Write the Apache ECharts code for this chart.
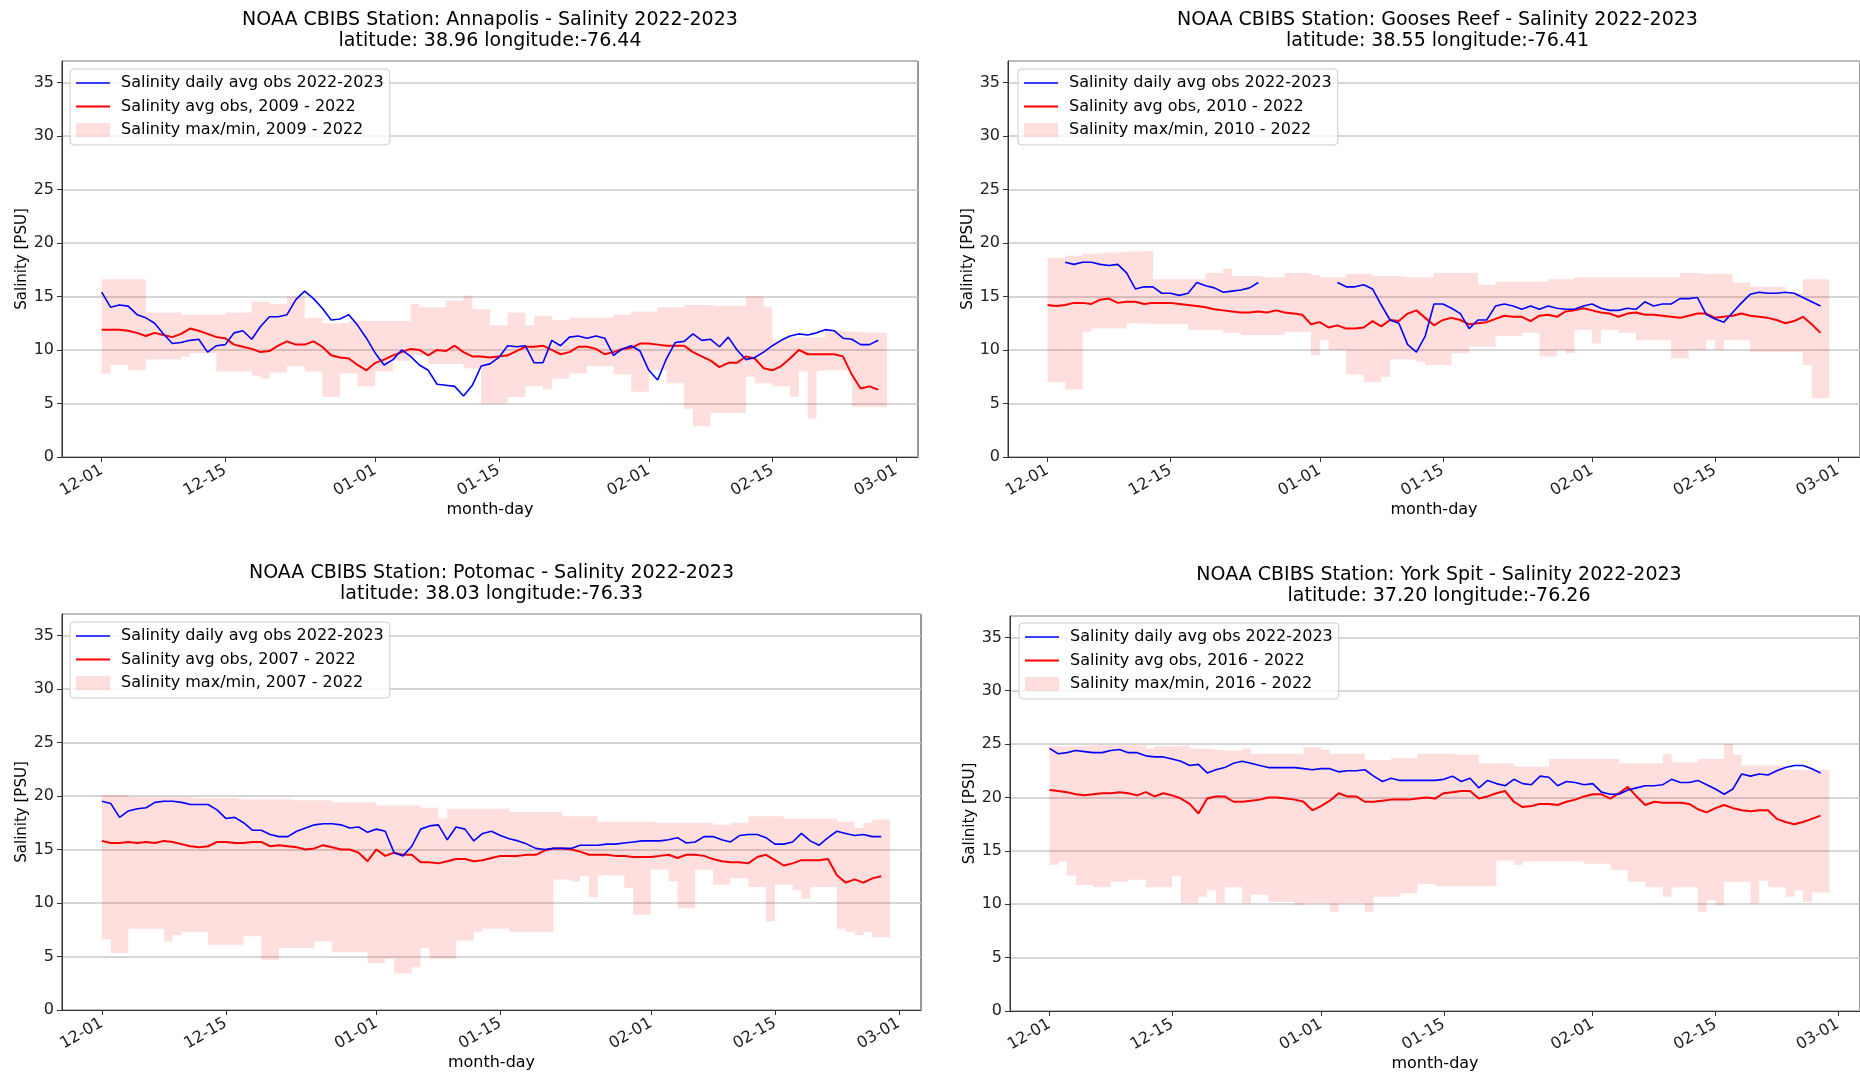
<!DOCTYPE html>
<html><head><meta charset="utf-8">
<script src="https://cdn.jsdelivr.net/npm/echarts@6/dist/echarts.min.js"></script>
<style>html,body{margin:0;padding:0;background:#fff}#chart{width:1860px;height:1073px}</style>
</head><body><div id="chart"></div>
<script>
// ---------- data ----------
const tickLabels = ['12-01','12-15','01-01','01-15','02-01','02-15','03-01'];
const stations = ['Annapolis','Gooses Reef','Potomac','York Spit'];
const latitudes = ['38.96','38.55','38.03','37.20'];
const longitudes = ['-76.44','-76.41','-76.33','-76.26'];
const climYears = ['2009 - 2022','2010 - 2022','2007 - 2022','2016 - 2022'];

// daily values, 12-01 .. 02-27 (89 days)
const annapolisObs = [
 15.4,14.0,14.2,14.1,13.3,13.0,12.5,11.5,10.6,10.7,
 10.9,11.0,9.8,10.4,10.5,11.6,11.8,11.0,12.2,13.1,
 13.1,13.3,14.7,15.5,14.8,13.9,12.8,12.9,13.3,12.3,
 11.1,9.7,8.6,9.1,10.0,9.4,8.6,8.1,6.8,6.7,
 6.6,5.7,6.7,8.5,8.7,9.3,10.4,10.3,10.4,8.8,
 8.8,10.9,10.4,11.2,11.3,11.1,11.3,11.1,9.5,10.1,
 10.4,9.9,8.1,7.2,9.2,10.7,10.8,11.5,10.9,11.0,
 10.3,11.2,10.0,9.1,9.3,9.8,10.4,10.9,11.3,11.5,
 11.4,11.6,11.9,11.8,11.1,11.0,10.5,10.5,10.9];
const annapolisAvg = [
 11.9,11.9,11.9,11.8,11.6,11.3,11.6,11.4,11.2,11.5,
 12.0,11.8,11.5,11.2,11.1,10.5,10.3,10.1,9.8,9.9,
 10.4,10.8,10.5,10.5,10.8,10.3,9.5,9.3,9.2,8.6,
 8.1,8.8,9.1,9.5,9.8,10.1,10.0,9.5,10.0,9.9,
 10.4,9.8,9.4,9.4,9.3,9.4,9.5,9.9,10.3,10.3,
 10.4,10.0,9.6,9.8,10.3,10.3,10.1,9.6,9.8,10.1,
 10.2,10.6,10.6,10.5,10.4,10.4,10.4,9.8,9.4,9.0,
 8.4,8.8,8.8,9.4,9.2,8.3,8.1,8.5,9.2,10.0,
 9.6,9.6,9.6,9.6,9.4,7.7,6.4,6.6,6.3];
const annapolisMax = [
 16.6,16.6,16.6,16.6,16.6,13.5,13.5,13.5,13.5,13.3,
 13.3,13.3,13.3,13.3,13.5,13.5,13.5,14.5,14.5,14.3,
 14.3,15.0,15.0,13.0,13.0,12.5,12.5,12.5,12.7,12.7,
 12.7,12.7,12.7,12.7,12.7,14.3,14.0,14.0,14.0,14.6,
 14.6,15.1,13.8,13.8,12.3,12.3,13.5,13.5,12.3,13.2,
 13.2,12.8,12.8,13.0,13.0,13.0,13.0,13.0,13.3,13.3,
 13.6,13.6,13.6,14.0,14.0,14.0,14.2,14.2,14.2,14.1,
 14.1,14.1,14.1,15.0,15.0,14.0,10.9,10.9,11.2,11.2,
 11.2,11.2,11.8,11.8,11.7,11.7,11.6,11.6,11.6];
const annapolisMin = [
 7.8,8.6,8.6,8.1,8.1,9.1,9.1,9.1,9.1,9.4,
 9.7,9.7,9.7,8.0,8.0,8.0,8.0,7.6,7.3,7.9,
 7.9,8.5,8.5,8.0,8.0,5.6,5.6,7.8,7.8,6.6,
 6.6,8.0,8.0,9.0,9.0,9.5,9.5,8.7,8.7,8.7,
 8.7,8.3,8.3,5.0,5.0,5.0,5.6,5.6,6.6,6.6,
 6.3,7.3,7.3,7.8,7.8,8.5,8.5,8.5,7.7,7.7,
 6.1,6.1,8.1,8.1,6.9,6.9,4.5,2.9,2.9,4.1,
 4.1,4.1,4.1,7.5,6.9,6.9,6.6,6.6,5.6,8.0,
 3.6,8.0,8.1,8.1,8.1,4.7,4.7,4.7,4.7];

const goosesObs = [
 null,null,18.2,18.0,18.2,18.2,18.0,17.9,18.0,17.2,
 15.7,15.9,15.9,15.3,15.3,15.1,15.3,16.3,16.0,15.8,
 15.4,15.5,15.6,15.8,16.3,null,null,null,null,null,
 null,null,null,16.3,15.9,15.9,16.1,15.7,14.2,12.8,
 12.5,10.5,9.8,11.3,14.3,14.3,13.9,13.4,12.0,12.8,
 12.8,14.1,14.3,14.1,13.8,14.1,13.8,14.1,13.9,13.8,
 13.8,14.1,14.3,13.9,13.7,13.7,13.9,13.8,14.5,14.1,
 14.3,14.3,14.8,14.8,14.9,13.3,12.9,12.6,13.5,14.4,
 15.2,15.4,15.3,15.3,15.4,15.3,14.9,14.5,14.1];
const goosesAvg = [
 14.2,14.1,14.2,14.4,14.4,14.3,14.7,14.8,14.4,14.5,
 14.5,14.3,14.4,14.4,14.4,14.3,14.2,14.1,14.0,13.8,
 13.7,13.6,13.5,13.5,13.6,13.5,13.7,13.5,13.4,13.3,
 12.4,12.6,12.1,12.3,12.0,12.0,12.1,12.7,12.2,12.8,
 12.7,13.4,13.7,13.0,12.3,12.8,13.0,12.8,12.4,12.5,
 12.6,12.9,13.2,13.1,13.1,12.7,13.2,13.3,13.1,13.6,
 13.7,13.9,13.7,13.5,13.4,13.1,13.4,13.5,13.3,13.3,
 13.2,13.1,13.0,13.2,13.4,13.4,13.0,13.1,13.2,13.4,
 13.2,13.1,13.0,12.8,12.5,12.7,13.1,12.4,11.6];
const goosesMax = [
 18.6,18.6,18.8,18.8,19.0,19.0,19.1,19.1,19.2,19.2,
 19.2,19.3,16.6,16.6,16.6,16.6,16.6,16.6,17.2,17.2,
 17.6,16.9,16.9,16.9,16.8,16.8,16.8,17.2,17.2,17.2,
 17.0,16.8,16.8,16.8,17.1,17.1,17.1,16.9,16.9,16.9,
 16.8,16.8,16.8,16.8,17.2,17.2,17.2,17.2,17.2,16.1,
 16.1,16.4,16.4,16.4,16.4,16.4,16.4,16.6,16.6,16.6,
 16.8,16.8,16.8,16.8,16.8,16.8,16.8,16.8,16.8,16.8,
 16.8,16.8,17.2,17.2,17.1,17.1,17.1,17.1,16.3,16.3,
 15.9,15.9,15.9,15.9,15.3,15.3,16.6,16.6,16.6];
const goosesMin = [
 7.0,7.0,6.3,6.3,11.7,12.0,12.0,12.0,12.0,12.5,
 12.5,12.5,12.4,12.4,12.4,12.4,11.9,11.9,11.9,11.9,
 11.6,11.6,11.4,11.4,11.4,11.4,11.4,11.7,11.7,11.7,
 9.5,10.9,10.0,10.0,7.7,7.7,7.0,7.0,7.5,9.1,
 9.1,9.1,8.9,8.6,8.6,8.6,9.7,9.7,10.3,10.3,
 10.3,11.3,11.3,11.3,11.6,11.6,9.4,9.4,10.0,9.7,
 11.9,11.9,10.6,11.9,11.9,11.6,11.6,10.9,10.9,10.9,
 10.9,9.2,9.2,10.0,10.0,10.9,10.0,10.9,10.9,10.9,
 9.8,9.8,9.8,9.8,9.8,9.8,8.6,5.5,5.5];

const potomacObs = [
 19.5,19.3,18.0,18.6,18.8,18.9,19.4,19.5,19.5,19.4,
 19.2,19.2,19.2,18.7,17.9,18.0,17.5,16.8,16.8,16.4,
 16.2,16.2,16.7,17.0,17.3,17.4,17.4,17.3,17.0,17.1,
 16.6,16.9,16.7,14.7,14.4,15.3,16.9,17.2,17.3,15.9,
 17.1,16.9,15.8,16.5,16.7,16.3,16.0,15.8,15.5,15.1,
 15.0,15.1,15.1,15.1,15.4,15.4,15.4,15.5,15.5,15.6,
 15.7,15.8,15.8,15.8,15.9,16.1,15.6,15.7,16.2,16.2,
 15.9,15.7,16.3,16.4,16.4,16.1,15.5,15.5,15.7,16.5,
 15.8,15.4,16.1,16.7,16.5,16.3,16.4,16.2,16.2];
const potomacAvg = [
 15.8,15.6,15.6,15.7,15.6,15.7,15.6,15.8,15.7,15.5,
 15.3,15.2,15.3,15.7,15.7,15.6,15.6,15.7,15.7,15.3,
 15.4,15.3,15.2,15.0,15.1,15.4,15.2,15.0,15.0,14.7,
 13.9,15.0,14.4,14.7,14.5,14.5,13.8,13.8,13.7,13.9,
 14.1,14.1,13.9,14.0,14.2,14.4,14.4,14.4,14.5,14.5,
 14.9,15.1,15.1,15.0,14.8,14.5,14.5,14.5,14.4,14.4,
 14.3,14.3,14.3,14.4,14.5,14.2,14.5,14.5,14.4,14.1,
 13.9,13.8,13.8,13.7,14.3,14.5,14.0,13.5,13.7,14.0,
 14.0,14.0,14.1,12.6,11.9,12.2,11.9,12.3,12.5];
const potomacMax = [
 20.1,20.1,20.1,19.9,19.9,19.9,19.9,19.9,19.9,19.9,
 19.8,19.8,19.8,19.8,19.8,19.7,19.7,19.7,19.7,19.7,
 19.7,19.6,19.6,19.6,19.6,19.6,19.4,19.4,19.4,19.4,
 19.4,19.1,19.1,19.1,19.1,19.1,18.9,18.9,17.9,18.8,
 18.8,18.8,18.8,18.8,18.8,18.8,18.5,18.5,18.5,18.5,
 18.5,18.5,18.1,18.1,18.1,18.1,17.6,17.6,17.6,17.6,
 17.6,17.6,17.5,17.5,17.5,17.5,17.5,17.5,17.5,17.3,
 17.3,17.5,17.5,18.1,18.1,18.1,18.1,17.9,17.9,17.9,
 17.9,17.9,17.9,17.6,17.6,17.0,17.5,17.8,17.8];
const potomacMin = [
 6.6,5.3,5.3,7.6,7.6,7.6,7.6,6.4,7.0,7.3,
 7.3,7.3,6.1,6.1,6.1,6.1,6.9,6.9,4.7,4.7,
 5.8,5.8,5.8,5.8,6.4,6.4,5.4,5.4,5.4,5.4,
 4.4,4.4,4.8,3.4,3.4,4.0,5.8,4.8,4.8,4.8,
 6.5,6.5,7.3,7.6,7.6,7.6,7.3,7.3,7.3,7.3,
 7.3,12.2,12.2,12.0,12.5,10.5,12.6,12.6,12.6,11.4,
 8.9,8.9,13.1,13.1,12.0,9.5,9.5,13.1,13.1,11.7,
 11.7,12.3,12.3,11.5,11.5,8.3,11.7,11.7,11.2,10.4,
 11.5,11.5,11.5,7.6,7.3,7.0,7.3,6.8,6.8];

const yorkObs = [
 24.6,24.1,24.2,24.4,24.3,24.2,24.2,24.4,24.5,24.2,
 24.2,23.9,23.8,23.8,23.6,23.4,23.0,23.1,22.3,22.6,
 22.8,23.2,23.4,23.2,23.0,22.8,22.8,22.8,22.8,22.7,
 22.6,22.7,22.7,22.4,22.5,22.5,22.6,22.0,21.5,21.8,
 21.6,21.6,21.6,21.6,21.6,21.7,22.0,21.5,21.8,20.9,
 21.6,21.3,21.1,21.7,21.3,21.2,22.0,21.9,21.1,21.5,
 21.4,21.2,21.3,20.5,20.3,20.3,20.7,20.9,21.1,21.1,
 21.2,21.7,21.4,21.4,21.6,21.2,20.8,20.3,20.8,22.2,
 22.0,22.2,22.1,22.5,22.8,23.0,23.0,22.7,22.3];
const yorkAvg = [
 20.7,20.6,20.5,20.3,20.2,20.3,20.4,20.4,20.5,20.4,
 20.2,20.5,20.1,20.4,20.2,19.9,19.4,18.5,19.9,20.1,
 20.1,19.6,19.6,19.7,19.8,20.0,20.0,19.9,19.8,19.6,
 18.8,19.2,19.7,20.4,20.1,20.1,19.6,19.6,19.7,19.8,
 19.8,19.8,19.9,20.0,19.9,20.4,20.5,20.6,20.6,19.9,
 20.1,20.4,20.6,19.6,19.1,19.2,19.4,19.4,19.3,19.6,
 19.8,20.1,20.3,20.3,19.9,20.4,21.0,20.1,19.3,19.6,
 19.5,19.5,19.5,19.4,18.9,18.6,19.0,19.3,19.0,18.8,
 18.7,18.8,18.8,18.0,17.7,17.5,17.7,18.0,18.3];
const yorkMax = [
 24.8,24.8,24.8,24.8,24.9,24.9,24.9,24.9,24.9,24.9,
 24.9,24.6,24.8,24.8,24.8,24.9,24.6,24.6,24.5,24.4,
 24.4,24.4,24.6,24.1,24.1,24.1,24.1,24.1,24.1,24.7,
 24.7,24.5,24.1,24.1,24.1,24.1,23.5,23.5,23.5,23.7,
 23.7,23.7,24.1,24.1,24.1,24.1,24.0,24.0,24.0,23.2,
 23.2,23.2,23.2,22.9,22.9,22.9,22.9,23.6,23.6,23.6,
 23.6,23.6,23.6,23.6,23.6,23.2,23.2,23.2,23.2,23.2,
 24.1,23.3,23.3,23.3,23.6,23.6,23.6,25.0,24.0,23.0,
 23.0,23.0,23.0,23.0,22.6,22.6,22.6,22.6,22.6];
const yorkMin = [
 13.7,14.0,12.7,11.8,11.8,11.6,11.6,12.1,12.1,12.3,
 12.3,11.6,11.6,11.6,12.6,10.1,10.1,10.7,11.3,10.1,
 11.6,11.6,10.1,10.9,10.9,10.2,10.2,10.2,9.9,10.1,
 10.1,10.1,9.3,10.1,10.1,10.1,9.3,10.7,10.7,10.7,
 11.0,11.0,11.9,11.9,11.7,11.7,11.7,11.7,11.7,11.7,
 11.7,14.1,14.1,13.7,14.0,14.0,14.0,14.0,14.0,14.0,
 14.0,13.8,13.8,13.8,13.2,13.2,12.1,12.1,11.6,11.6,
 10.7,11.6,11.6,11.6,9.3,10.4,9.9,12.1,12.1,12.1,
 10.1,12.2,11.6,11.6,10.7,11.3,10.2,11.1,11.1];

const obsSets = [annapolisObs, goosesObs, potomacObs, yorkObs];
const avgSets = [annapolisAvg, goosesAvg, potomacAvg, yorkAvg];
const maxSets = [annapolisMax, goosesMax, potomacMax, yorkMax];
const minSets = [annapolisMin, goosesMin, potomacMin, yorkMin];

// ---------- layout ----------
const layouts = [
  {grid:{left:62,  top:61,  width:856, height:396}, titleTop:10,  legend:{left:70,   top:69}},
  {grid:{left:1008,top:61,  width:859, height:396}, titleTop:10,  legend:{left:1018, top:69}},
  {grid:{left:62,  top:614, width:859, height:396}, titleTop:563, legend:{left:70,   top:622}},
  {grid:{left:1010,top:616, width:858, height:395}, titleTop:565, legend:{left:1019, top:623}}
];

// category axis: days from 11-27 to 03-05 (data starts on 12-01)
const LEAD = 4, NCAT = 97;
const dayCategories = [];
for (let d = -LEAD; d < NCAT - LEAD; d++) {
  const dt = new Date(Date.UTC(2022, 11, 1 + d));
  dayCategories.push(String(dt.getUTCMonth() + 1).padStart(2, '0') + '-' + String(dt.getUTCDate()).padStart(2, '0'));
}
const pad = a => Array(LEAD).fill(null).concat(a, Array(NCAT - LEAD - a.length).fill(null));
const showTick = (idx, val) => tickLabels.indexOf(val) >= 0;

const PINK = 'rgba(255,0,0,0.13)';
const BLUE = '#0000ff', RED = '#ff0000';
const FONT = 'DejaVu Sans';
const OBS_NAME = 'Salinity daily avg obs 2022-2023';
const BLUE_ICON = 'path://M0,0H34V1.7H0Z';
const RED_ICON = 'path://M0,0H34V2.2H0Z';

const grids = [], xAxes = [], yAxes = [], titles = [], legends = [], series = [];
layouts.forEach((L, i) => {
  const avgName = 'Salinity avg obs, ' + climYears[i];
  const bandName = 'Salinity max/min, ' + climYears[i];
  grids.push(Object.assign({show:true, borderColor:'#333', borderWidth:1, backgroundColor:'transparent'}, L.grid));
  titles.push({
    text: 'NOAA CBIBS Station: ' + stations[i] + ' - Salinity 2022-2023\nlatitude: ' + latitudes[i] + ' longitude:' + longitudes[i],
    left: L.grid.left + L.grid.width / 2, top: L.titleTop, textAlign: 'center', padding: 0,
    textStyle: {fontFamily: FONT, fontSize: 19, fontWeight: 'normal', color: '#000', lineHeight: 21}
  });
  xAxes.push({
    type:'category', gridIndex:i, data: dayCategories, boundaryGap:true,
    axisLine:{show:true, lineStyle:{color:'#333', width:1}},
    axisTick:{show:true, alignWithLabel:true, interval: showTick, length:5, lineStyle:{color:'#333'}},
    axisLabel:{interval: showTick, rotate:30, fontSize:16, fontFamily:FONT, color:'#222', margin:12},
    splitLine:{show:false},
    name:'month-day', nameLocation:'middle', nameGap:45,
    nameTextStyle:{fontSize:16, fontFamily:FONT, color:'#000'}
  });
  yAxes.push({
    type:'value', gridIndex:i, min:0, max:37, interval:5,
    axisLine:{show:true, lineStyle:{color:'#333', width:1}},
    axisTick:{show:true, length:5, lineStyle:{color:'#333'}},
    axisLabel:{fontSize:16, fontFamily:FONT, color:'#222', margin:8, showMaxLabel:false},
    splitLine:{show:true, lineStyle:{color:'#c8c8c8', width:1.5}},
    name:'Salinity [PSU]', nameLocation:'middle', nameGap:32,
    nameTextStyle:{fontSize:15, fontFamily:FONT, color:'#000'}
  });
  legends.push({
    left: L.legend.left, top: L.legend.top, orient:'vertical', selectedMode:false,
    itemWidth:34, itemHeight:14, itemGap:7.5, padding:[6,6,7,6],
    backgroundColor:'rgba(255,255,255,0.8)', borderColor:'#cccccc', borderWidth:1, borderRadius:4,
    textStyle:{fontSize:16, fontFamily:FONT, color:'#000', padding:[0,0,0,6]},
    data:[
      {name:OBS_NAME, icon:BLUE_ICON, itemStyle:{color:BLUE, borderWidth:0, opacity:1}},
      {name:avgName, icon:RED_ICON, itemStyle:{color:RED, borderWidth:0, opacity:1}},
      {name:bandName, icon:'rect', itemStyle:{color:PINK, opacity:1, borderWidth:0}}
    ]
  });
  const mins = minSets[i], maxs = maxSets[i];
  const ranges = maxs.map((v, k) => (v == null || mins[k] == null) ? null : +(v - mins[k]).toFixed(2));
  series.push({
    name:'min ' + stations[i], type:'line', xAxisIndex:i, yAxisIndex:i, data: pad(mins),
    stack:'band' + i, step:'end', symbol:'none', silent:true, z:1,
    color: PINK, lineStyle:{width:0, opacity:0}, itemStyle:{color:PINK}
  });
  series.push({
    name: bandName, type:'line', xAxisIndex:i, yAxisIndex:i, data: pad(ranges),
    stack:'band' + i, step:'end', symbol:'none', silent:true, z:1,
    color: PINK, lineStyle:{width:0, opacity:0}, itemStyle:{color:PINK}, areaStyle:{color:PINK, opacity:1}
  });
  series.push({
    name: avgName, type:'line', xAxisIndex:i, yAxisIndex:i, data: pad(avgSets[i]),
    symbol:'none', z:3, color:RED, lineStyle:{color:RED, width:2}
  });
  series.push({
    name: OBS_NAME, type:'line', xAxisIndex:i, yAxisIndex:i, data: pad(obsSets[i]),
    symbol:'none', z:4, color:BLUE, lineStyle:{color:BLUE, width:1.6}
  });
});

const chart = echarts.init(document.getElementById('chart'), null, {renderer:'canvas'});
chart.setOption({
  animation:false, backgroundColor:'#fff',
  textStyle:{fontFamily:FONT},
  title: titles, grid: grids, xAxis: xAxes, yAxis: yAxes, legend: legends, series: series
});
</script></body></html>
